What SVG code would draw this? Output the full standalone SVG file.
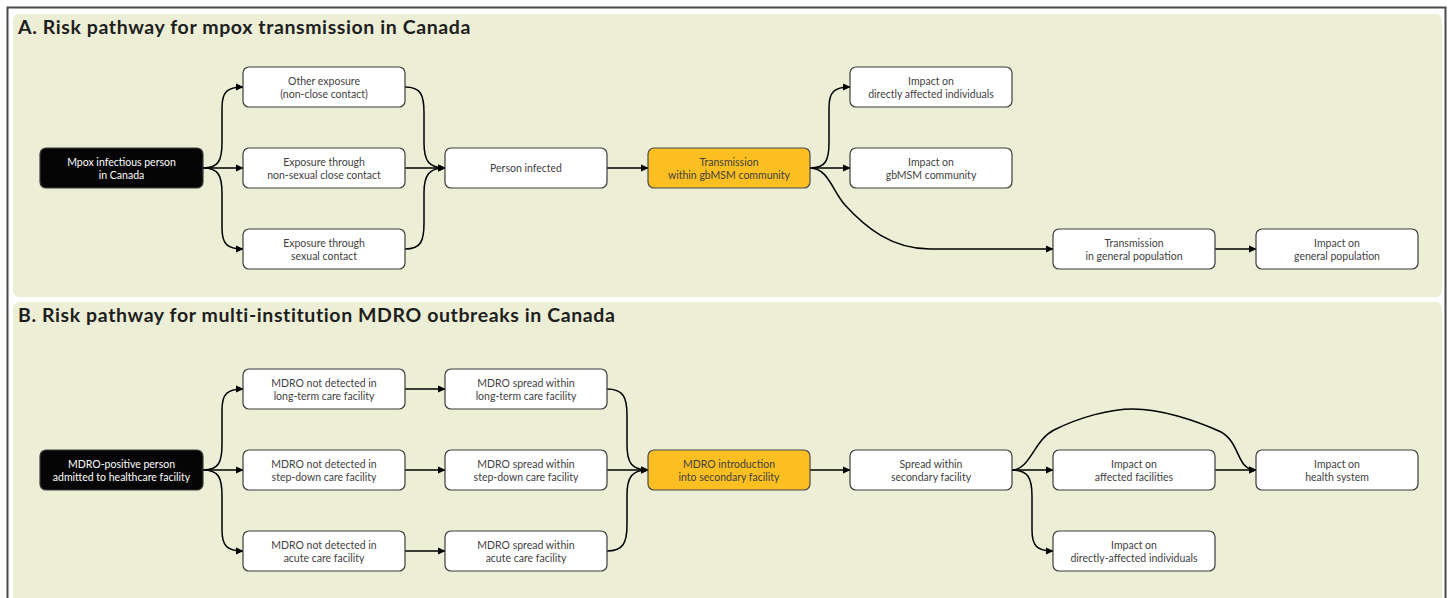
<svg xmlns="http://www.w3.org/2000/svg" width="1450" height="598" viewBox="0 0 1450 598">
<defs>
<marker id="ah" viewBox="0 0 10 10" refX="9" refY="5" markerWidth="8" markerHeight="8" markerUnits="userSpaceOnUse" orient="auto">
<path d="M0,0.5 L10,5 L0,9.5 z" fill="#000"/>
</marker>
<style>
.panel{fill:#ECEED6}
.title{font-family:Lato,"Open Sans",sans-serif;font-weight:bold;font-size:19.5px;letter-spacing:0.6px;fill:#1e1e1e}
.box{fill:#fff;stroke:#3c3c3c;stroke-width:1.2}
.dark{fill:#050505;stroke:#3c3c3c;stroke-width:1.2}
.hl{fill:#FCBF22;stroke:#4a4a4a;stroke-width:1.2}
.t{font-family:Lato,"Open Sans",sans-serif;font-size:10.5px;fill:#3f3f3f;text-anchor:middle}
.tw{fill:#fff}
.c{fill:none;stroke:#000;stroke-width:1.5;marker-end:url(#ah)}
</style>
</defs>
<rect x="0" y="0" width="1450" height="598" fill="#fff"/>
<path d="M7.5,598 L7.5,7.5 L1445.5,7.5 L1445.5,598" fill="none" stroke="#4a4a4a" stroke-width="2"/>
<rect class="panel" x="13" y="14" width="1429" height="283" rx="6"/>
<rect class="panel" x="13" y="302" width="1429" height="302" rx="6"/>
<text class="title" x="18" y="34">A. Risk pathway for mpox transmission in Canada</text>
<text class="title" x="18" y="322">B. Risk pathway for multi-institution MDRO outbreaks in Canada</text>

<g id="connectors">
<path class="c" d="M203,168 C219,168 222,160 222,142 L222,108 C222,92 227,87 243,87"/>
<path class="c" d="M203,168 L243,168"/>
<path class="c" d="M203,168 C219,168 222,176 222,194 L222,228 C222,244 227,249 243,249"/>
<path class="c" d="M405,87 C421,87 424,95 424,113 L424,143 C424,161 429,168 445,168"/>
<path class="c" d="M405,168 L445,168"/>
<path class="c" d="M405,249 C421,249 424,241 424,223 L424,193 C424,175 429,168 445,168"/>
<path class="c" d="M607,168 L648,168"/>
<path class="c" d="M810,168 C826,168 829,160 829,142 L829,108 C829,92 834,87 850,87"/>
<path class="c" d="M810,168 L850,168"/>
<path class="c" d="M810,168 C828,168 832,190 845,205 C866,228 892,249 930,249 L1053,249"/>
<path class="c" d="M1215,249 L1256,249"/>

<path class="c" d="M203,470 C219,470 222,462 222,444 L222,410 C222,394 227,389 243,389"/>
<path class="c" d="M203,470 L243,470"/>
<path class="c" d="M203,470 C219,470 222,478 222,496 L222,530 C222,546 227,551 243,551"/>
<path class="c" d="M405,389 L445,389"/>
<path class="c" d="M405,470 L445,470"/>
<path class="c" d="M405,551 L445,551"/>
<path class="c" d="M607,389 C623,389 627,397 627,415 L627,445 C627,463 632,470 648,470"/>
<path class="c" d="M607,470 L648,470"/>
<path class="c" d="M607,551 C623,551 627,543 627,525 L627,495 C627,477 632,470 648,470"/>
<path class="c" d="M810,470 L850,470"/>
<path class="c" d="M1012,470 L1053,470"/>
<path class="c" d="M1012,470 C1028,470 1032,478 1032,496 L1032,530 C1032,546 1037,551 1053,551"/>
<path class="c" d="M1012,470 C1030,470 1034,440 1054,430 C1080,417 1110,409 1133,409 C1160,409 1195,420 1221,432 C1241,443 1236,470 1256,470"/>
<path class="c" d="M1215,470 L1256,470"/>
</g>

<g id="a-source"><rect class="dark" x="40" y="148" width="163" height="40" rx="6"/><text class="t tw" x="121.5" y="165.5">Mpox infectious person</text><text class="t tw" x="121.5" y="179">in Canada</text></g>
<g id="a-other"><rect class="box" x="243" y="67" width="162" height="40" rx="6"/><text class="t" x="324" y="84.5">Other exposure</text><text class="t" x="324" y="98">(non-close contact)</text></g>
<g id="a-nonsexual"><rect class="box" x="243" y="148" width="162" height="40" rx="6"/><text class="t" x="324" y="165.5">Exposure through</text><text class="t" x="324" y="179">non-sexual close contact</text></g>
<g id="a-sexual"><rect class="box" x="243" y="229" width="162" height="40" rx="6"/><text class="t" x="324" y="246.5">Exposure through</text><text class="t" x="324" y="260">sexual contact</text></g>
<g id="a-infected"><rect class="box" x="445" y="148" width="162" height="40" rx="6"/><text class="t" x="526" y="172">Person infected</text></g>
<g id="a-gbmsm-trans"><rect class="hl" x="648" y="148" width="162" height="40" rx="6"/><text class="t" x="729" y="165.5">Transmission</text><text class="t" x="729" y="179">within gbMSM community</text></g>
<g id="a-impact-indiv"><rect class="box" x="850" y="67" width="162" height="40" rx="6"/><text class="t" x="931" y="84.5">Impact on</text><text class="t" x="931" y="98">directly affected individuals</text></g>
<g id="a-impact-gbmsm"><rect class="box" x="850" y="148" width="162" height="40" rx="6"/><text class="t" x="931" y="165.5">Impact on</text><text class="t" x="931" y="179">gbMSM community</text></g>
<g id="a-gen-trans"><rect class="box" x="1053" y="229" width="162" height="40" rx="6"/><text class="t" x="1134" y="246.5">Transmission</text><text class="t" x="1134" y="260">in general population</text></g>
<g id="a-gen-impact"><rect class="box" x="1256" y="229" width="162" height="40" rx="6"/><text class="t" x="1337" y="246.5">Impact on</text><text class="t" x="1337" y="260">general population</text></g>

<g id="b-source"><rect class="dark" x="40" y="450" width="163" height="40" rx="6"/><text class="t tw" x="121.5" y="467.5">MDRO-positive person</text><text class="t tw" x="121.5" y="481">admitted to healthcare facility</text></g>
<g id="b-nd-ltc"><rect class="box" x="243" y="369" width="162" height="40" rx="6"/><text class="t" x="324" y="386.5">MDRO not detected in</text><text class="t" x="324" y="400">long-term care facility</text></g>
<g id="b-nd-sd"><rect class="box" x="243" y="450" width="162" height="40" rx="6"/><text class="t" x="324" y="467.5">MDRO not detected in</text><text class="t" x="324" y="481">step-down care facility</text></g>
<g id="b-nd-acute"><rect class="box" x="243" y="531" width="162" height="40" rx="6"/><text class="t" x="324" y="548.5">MDRO not detected in</text><text class="t" x="324" y="562">acute care facility</text></g>
<g id="b-sp-ltc"><rect class="box" x="445" y="369" width="162" height="40" rx="6"/><text class="t" x="526" y="386.5">MDRO spread within</text><text class="t" x="526" y="400">long-term care facility</text></g>
<g id="b-sp-sd"><rect class="box" x="445" y="450" width="162" height="40" rx="6"/><text class="t" x="526" y="467.5">MDRO spread within</text><text class="t" x="526" y="481">step-down care facility</text></g>
<g id="b-sp-acute"><rect class="box" x="445" y="531" width="162" height="40" rx="6"/><text class="t" x="526" y="548.5">MDRO spread within</text><text class="t" x="526" y="562">acute care facility</text></g>
<g id="b-intro"><rect class="hl" x="648" y="450" width="162" height="40" rx="6"/><text class="t" x="729" y="467.5">MDRO introduction</text><text class="t" x="729" y="481">into secondary facility</text></g>
<g id="b-spread-sec"><rect class="box" x="850" y="450" width="162" height="40" rx="6"/><text class="t" x="931" y="467.5">Spread within</text><text class="t" x="931" y="481">secondary facility</text></g>
<g id="b-impact-fac"><rect class="box" x="1053" y="450" width="162" height="40" rx="6"/><text class="t" x="1134" y="467.5">Impact on</text><text class="t" x="1134" y="481">affected facilities</text></g>
<g id="b-impact-indiv"><rect class="box" x="1053" y="531" width="162" height="40" rx="6"/><text class="t" x="1134" y="548.5">Impact on</text><text class="t" x="1134" y="562">directly-affected individuals</text></g>
<g id="b-impact-health"><rect class="box" x="1256" y="450" width="162" height="40" rx="6"/><text class="t" x="1337" y="467.5">Impact on</text><text class="t" x="1337" y="481">health system</text></g>
</svg>
